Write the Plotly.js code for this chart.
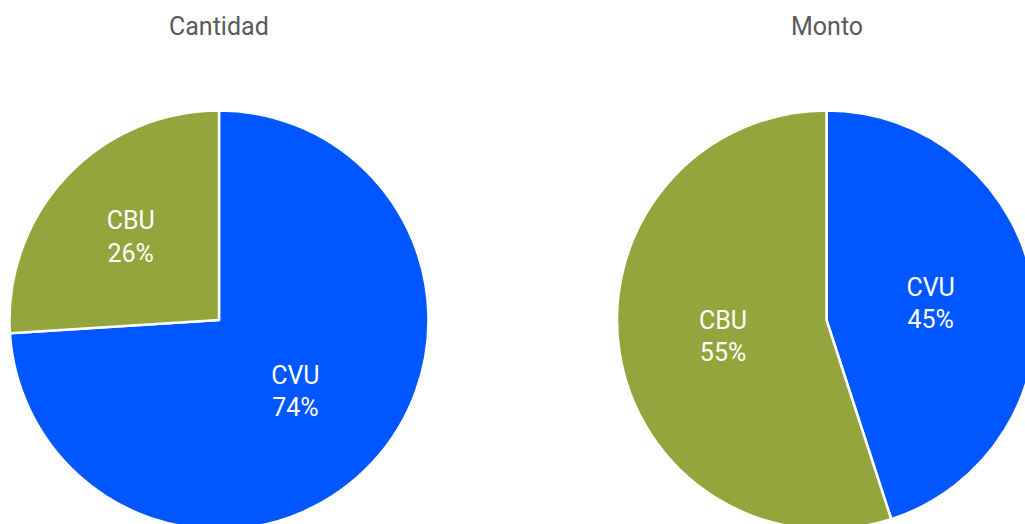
<!DOCTYPE html>
<html>
<head>
<meta charset="utf-8">
<script src="https://cdn.plot.ly/plotly-3.0.1.min.js"></script>
<style>
html,body{margin:0;padding:0;overflow:hidden;background:#fff;width:1025px;height:524px;}
#chart{position:absolute;left:0;top:0;}
</style>
</head>
<body>
<div id="chart"></div>
<script>
// Data
const categories = ['CVU', 'CBU'];
const cantidadValues = [74, 26];
const montoValues = [45, 55];
const chartTitles = ['Cantidad', 'Monto'];
const sliceColors = ['#0057ff', '#93a53c'];

// Layout geometry (pixels) - page is larger than viewport so pies are cropped like the reference
const W = 1100, H = 560;
const R = 209.5;
const centers = [[219, 320], [826.5, 320]];

function domainFor(c) {
  return {
    x: [(c[0] - R) / W, (c[0] + R) / W],
    y: [1 - (c[1] + R) / H, 1 - (c[1] - R) / H]
  };
}

function pieTrace(values, c) {
  return {
    type: 'pie',
    labels: categories,
    values: values,
    sort: false,
    direction: 'clockwise',
    domain: domainFor(c),
    marker: { colors: sliceColors, line: { color: '#ffffff', width: 2.5 } },
    textinfo: 'label+percent',
    texttemplate: '%{label}<br>%{percent:.0%}',
    textposition: 'inside',
    insidetextorientation: 'horizontal',
    insidetextfont: { color: '#ffffff', size: 25, family: 'Roboto, sans-serif' },
    hoverinfo: 'label+percent',
    showlegend: false
  };
}

const data = [
  pieTrace(cantidadValues, centers[0]),
  pieTrace(montoValues, centers[1])
];

const annotations = chartTitles.map((t, i) => ({
  text: t,
  xref: 'paper', yref: 'paper',
  x: centers[i][0] / W,
  y: 1 - 26 / H,
  xanchor: 'center', yanchor: 'middle',
  showarrow: false,
  font: { family: 'Roboto, sans-serif', size: 25, color: '#595959' }
}));

const layout = {
  width: W,
  height: H,
  margin: { l: 0, r: 0, t: 0, b: 0, pad: 0 },
  paper_bgcolor: '#ffffff',
  plot_bgcolor: '#ffffff',
  font: { family: 'Roboto, sans-serif' },
  showlegend: false,
  annotations: annotations
};

Plotly.newPlot('chart', data, layout, { displayModeBar: false, staticPlot: true });
</script>
</body>
</html>
